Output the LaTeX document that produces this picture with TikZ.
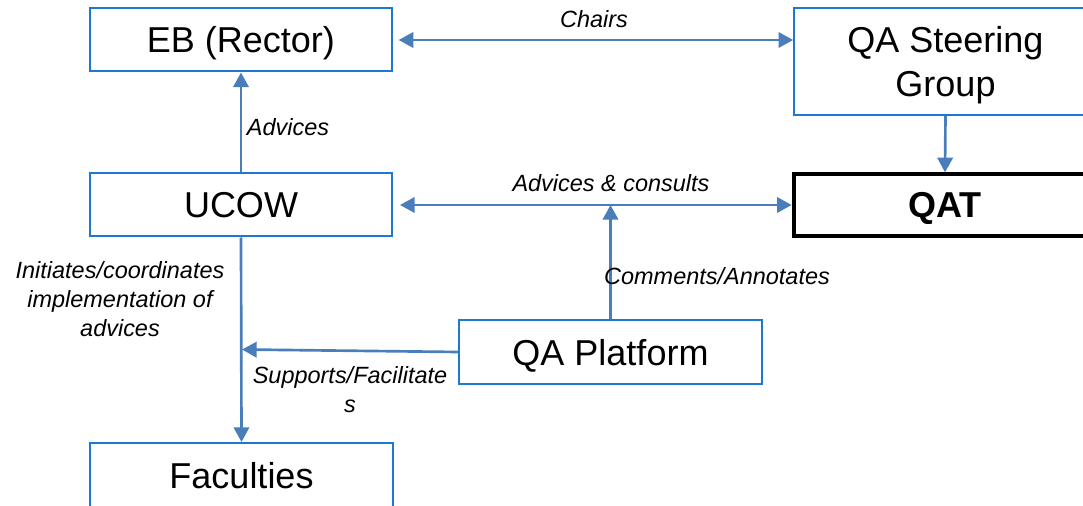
\documentclass[tikz,border=0pt]{standalone}
\usepackage{fontspec}
\setmainfont{Liberation Sans}
\usepackage{tikz}
\usetikzlibrary{arrows.meta,positioning}
\definecolor{boxblue}{HTML}{1F78CF}
\definecolor{linkblue}{HTML}{4A7EBB}
\tikzset{
unit/.style={draw=boxblue, line width=1.5pt, minimum width=227pt, minimum height=47.25pt,
  align=center, inner sep=0pt, text height=19.5pt, text depth=0pt,
  font=\fontsize{27}{33}\selectfont}, % the boxes
lbl/.style={align=center, inner sep=0pt, font=\fontsize{17.6}{21.75}\selectfont\itshape}, % edge texts
link/.style={draw=linkblue, line width=2pt, >={Triangle[length=11pt,width=11.5pt]}}, % the arrows
}

\begin{document}
\begin{tikzpicture}[x=0.75pt, y=-0.75pt]
  \useasboundingbox (0,0) rectangle (1083,506);
  \clip (0,0) rectangle (1083,506);
  \node[unit] (eb) at (241,40) {EB (Rector)};
  \node[unit, minimum height=80.25pt, text height=53.25pt] (qasg) at (945.5,61.5) {QA Steering\\Group};
  \node[unit] (ucow) at (241,205) {UCOW};
  \node[unit, draw=black, line width=3pt, minimum height=46pt, font=\fontsize{27}{33}\selectfont\bfseries] (qat) at (945,205) {QAT};
  \node[unit] (qap) at (610.5,352) {QA Platform};
  \node[unit, minimum height=48pt] (fac) at (241.5,475) {Faculties};
  \coordinate (mid) at (qap.north |- ucow.east);
  \coordinate (join) at (242,349.5);
  \draw[link,<->,shorten <=4pt] (eb.east) -- (eb.east -| qasg.west);
  \draw[link,->] (ucow.north) -- (eb.south);
  \draw[link,->] (qasg.south) -- (qat.north);
  \draw[link,<->,shorten <=5pt] (ucow.east) -- (ucow.east -| qat.west);
  \draw[link,->] (qap.north) -- (mid);
  \draw[link,->] (ucow.south) -- (fac.north);
  \draw[link,->] (qap.west) -- (join);
  \node[lbl] (chairs) at (594,19) {Chairs};
  \node[lbl] (advices) at (288,127) {Advices};
  \node[lbl] (consults) at (611,183) {Advices \& consults};
  \node[lbl] (comments) at (717,276) {Comments/Annotates};
  \node[lbl] (initiates) at (120,299) {Initiates/coordinates\\implementation of\\advices};
  \node[lbl] (supports) at (350,390) {Supports/Facilitate\\s};
\end{tikzpicture}
\end{document}
